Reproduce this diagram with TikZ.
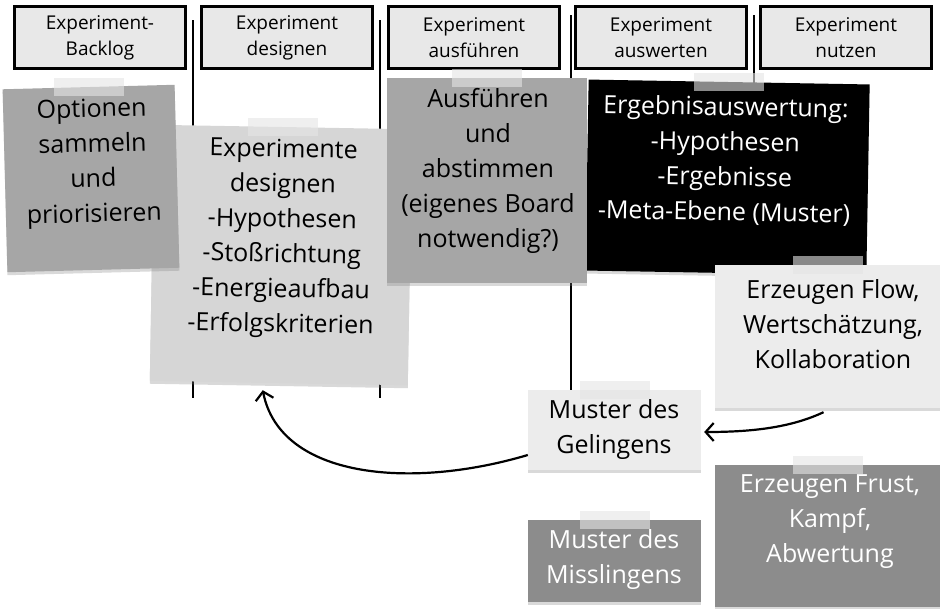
\documentclass[tikz,border=0pt]{standalone}
\usepackage{fontspec}
\setmainfont{Open Sans}
\usetikzlibrary{arrows.meta, shadows}
\definecolor{lanefill}{HTML}{E8E8E8}
\definecolor{darknote}{HTML}{A6A6A6}
\definecolor{lightnote}{HTML}{D6D6D6}
\definecolor{palenote}{HTML}{ECECEC}
\definecolor{grimnote}{HTML}{8C8C8C}
\tikzset{
  lane/.style={
    rectangle,
    draw=black,
    line width=3pt,
    fill=lanefill,
    minimum width=171pt,
    minimum height=62pt,
    align=center,
    font=\fontsize{19}{26}\selectfont
  }
}
\tikzset{
  note/.style={
    rectangle,
    fill=#1,
    inner sep=0pt,
    drop shadow={shadow xshift=0pt, shadow yshift=-3pt, opacity=0.3}
  }
}
\tikzset{
  notetext/.style={
    align=center,
    inner sep=0pt,
    font=\fontsize{25}{35}\selectfont
  }
}
\tikzstyle{arrow} = [->, > = {Straight Barb[length=8pt, width=18pt]}, line width=2.2pt]
\tikzstyle{divider} = [line width=2.5pt]
\tikzstyle{tape} = [fill=black!10, opacity=0.6]
\def\tape#1{\fill[tape] ([xshift=-35pt, yshift=-9pt]#1.north) rectangle ([xshift=35pt, yshift=9pt]#1.north);}

\begin{document}
\begin{tikzpicture}[x=1pt, y=-1pt]
    \useasboundingbox (0, 0) rectangle (942, 608);
    % lanes
    \draw[divider] (193, 20) -- (193, 398);
    \draw[divider] (380, 20) -- (380, 398);
    \draw[divider] (571, 15) -- (571, 398);
    \draw[divider] (754, 15) -- (754, 398);
    \node[lane] (h1) at (100, 37.5) {Experiment-\\Backlog};
    \node[lane] (h2) at (287, 37.5) {Experiment\\designen};
    \node[lane] (h3) at (474, 37.5) {Experiment\\ausführen};
    \node[lane] (h4) at (661, 37.5) {Experiment\\auswerten};
    \node[lane] (h5) at (846, 37.5) {Experiment\\nutzen};
    % notes
    \node[note=lightnote, minimum width=258pt, minimum height=256pt, rotate=-1] (des) at (281, 255) {};
    \node[notetext, rotate=-1] (des-text) at (282, 238.5) {Experimente\\designen\\-Hypothesen\\-Stoßrichtung\\-Energieaufbau\\-Erfolgskriterien};
    \node[note=darknote, minimum width=172pt, minimum height=183pt, rotate=1.5] (opt) at (91, 178.5) {};
    \node[notetext, rotate=1.5] (opt-text) at (93, 163.5) {Optionen\\sammeln\\und\\priorisieren};
    \node[note=black, minimum width=281pt, minimum height=191pt, rotate=-1] (erg) at (727.5, 177.5) {};
    \node[notetext, text=white, rotate=-1] (erg-text) at (725, 160.5) {Ergebnisauswertung:\\-Hypothesen\\-Ergebnisse\\-Meta-Ebene (Muster)};
    \node[note=darknote, minimum width=200pt, minimum height=205pt] (aus) at (487, 180.5) {};
    \node[notetext] (aus-text) at (488, 170.5) {Ausführen\\und\\abstimmen\\(eigenes Board\\notwendig?)};
    \node[note=palenote, minimum width=225pt, minimum height=143pt] (flow) at (827.5, 336.5) {};
    \node[notetext] (flow-text) at (833, 324) {Erzeugen Flow,\\Wertschätzung,\\Kollaboration};
    \node[note=palenote, minimum width=173pt, minimum height=80pt] (gel) at (614.5, 430) {};
    \node[notetext] (gel-text) at (614, 429) {Muster des\\Gelingens};
    \node[note=grimnote, minimum width=225pt, minimum height=142pt] (frust) at (827.5, 536) {};
    \node[notetext, text=white] (frust-text) at (830, 521.5) {Erzeugen Frust,\\Kampf,\\Abwertung};
    \node[note=grimnote, minimum width=173pt, minimum height=82pt] (miss) at (614.5, 561) {};
    \node[notetext, text=white] (miss-text) at (614, 559.5) {Muster des\\Misslingens};
    \tape{opt} \tape{des} \tape{aus} \tape{erg} \tape{flow} \tape{gel} \tape{frust} \tape{miss}
    % connectors
    \draw[arrow] ([yshift=-25pt]gel.west) .. controls (410, 490) and (280, 478) .. ([xshift=-16pt, yshift=-7pt]des.south);
    \draw[arrow] ([xshift=-4pt, yshift=-4pt]flow.south) .. controls (790, 428) and (750, 432) .. ([xshift=3pt, yshift=-2pt]gel.east);
\end{tikzpicture}
\end{document}
